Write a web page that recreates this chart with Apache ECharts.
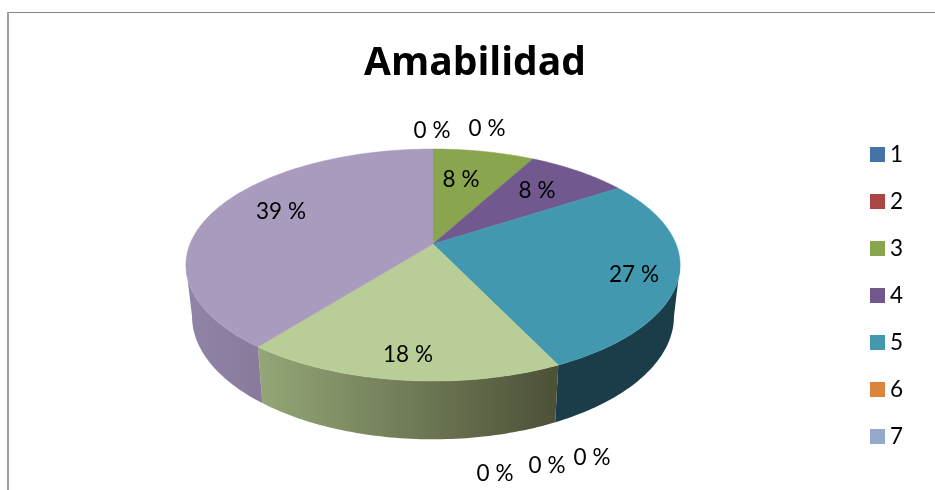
<!DOCTYPE html>
<html>
<head>
<meta charset="utf-8">
<style>html,body{margin:0;padding:0;background:#fff}#c{width:935px;height:490px}</style>
<script src="https://cdn.jsdelivr.net/npm/echarts@6/dist/echarts.min.js"></script>
</head>
<body>
<div id="c"></div>
<script>
const titleText = 'Amabilidad';
const categories = ['1','2','3','4','5','6','7','8','9','10'];
const legendCategories = ['1','2','3','4','5','6','7'];
const values = [0, 0, 7.9, 7.9, 27.1, 0, 0, 0, 17.7, 39.4];

const topColors = ['#4572a7','#aa4643','#89a54e','#71588f','#4198af','#db843d','#93a9cf','#d19392','#b9cd96','#a99bbd'];
const wallStart = ['#34557d','#7f3432','#667b3a','#54426b','#1b3d4a','#a46230','#6e7e9b','#9c6e6d','#94a777','#9184a8'];
const wallEnd   = ['#34557d','#7f3432','#667b3a','#54426b','#1b3d4a','#a46230','#6e7e9b','#9c6e6d','#4c5037','#887a9a'];

// label centres in the chart's own layout (not data)
const labelLayout = [[432,131],[487,129],[461,180],[537,191],[634,275],[547,466],[592,458],[495,474],[408,355],[281,212]];

// perspective projection of the pie's disc
const view = {cx:433, top:{y:244,a:112.2,b:243}, low:{y:294,a:119,b:237}, k:-0.181};
function project(deg, rim){
  const t = deg*Math.PI/180, u = Math.sin(t), v = -Math.cos(t), w = 1+view.k*v;
  return [view.cx + rim.b*u/w, rim.y + rim.a*v/w];
}
const total = values.reduce((s,x)=>s+x,0);
const starts = values.map((_,i)=>values.slice(0,i).reduce((s,x)=>s+x,0)/total*360);
const TANGENT_A = 100.4, TANGENT_B = 259.6;

function renderSlice(idx){
  return function(params, api){
    const val = api.value(0);
    const a0 = starts[idx], a1 = a0 + val/total*360;
    const children = [];
    if (val > 0){
      const rim = [];
      for (let d=a0; d<a1; d+=1) rim.push(project(d,view.top));
      rim.push(project(a1,view.top));
      children.push({type:'polygon', z2:2, shape:{points:[[view.cx,view.top.y]].concat(rim)},
        style:{fill:topColors[idx], stroke:topColors[idx], lineWidth:0.5}});
      const w0 = Math.max(a0,TANGENT_A), w1 = Math.min(a1,TANGENT_B);
      if (w1 > w0){
        const upper=[], lower=[];
        for (let d=w0; d<w1; d+=1){upper.push(project(d,view.top)); lower.push(project(d,view.low));}
        upper.push(project(w1,view.top)); lower.push(project(w1,view.low));
        const xs = upper.concat(lower).map(p=>p[0]);
        const minX = Math.min.apply(null,xs), maxX = Math.max.apply(null,xs);
        children.push({type:'polygon', z2:1, shape:{points:upper.concat(lower.reverse())},
          style:{fill:{type:'linear',x:minX,y:0,x2:maxX,y2:0,global:true,
            colorStops:[{offset:0,color:wallStart[idx]},{offset:1,color:wallEnd[idx]}]},
            stroke:null}});
      }
    }
    children.push({type:'text', z2:5, x:labelLayout[idx][0], y:labelLayout[idx][1],
      style:{text:Math.round(val)+' %', fill:'#000', font:'22.5px Lato, "Open Sans", sans-serif', align:'center', verticalAlign:'middle'}});
    return {type:'group', children};
  };
}

const chart = echarts.init(document.getElementById('c'), null, {renderer:'canvas'});
chart.setOption({
  animation:false,
  backgroundColor:'#fff',
  title:{text:titleText, left:475, top:44, padding:0, textAlign:'center',
    textStyle:{fontFamily:'"Open Sans", Lato, sans-serif', fontWeight:'bold', fontSize:39, color:'#000'}},
  legend:{data:legendCategories, orient:'vertical', left:870, top:143, padding:0, itemWidth:15, itemHeight:15, itemGap:24,
    icon:'rect', selectedMode:false, itemStyle:{borderWidth:0},
    textStyle:{fontFamily:'Lato, "Open Sans", sans-serif', fontSize:22.5, color:'#000'}},
  graphic:[
    {type:'line', silent:true, shape:{x1:7,y1:12.5,x2:935,y2:12.5}, style:{stroke:'#868686',lineWidth:1}},
    {type:'line', silent:true, shape:{x1:8,y1:12,x2:8,y2:490}, style:{stroke:'#a0a0a0',lineWidth:2}}
  ],
  series:categories.map((name,i)=>({
    type:'custom', name, coordinateSystem:'none', silent:true,
    itemStyle:{color:topColors[i]},
    data:[[values[i]]], renderItem:renderSlice(i)
  }))
});
</script>
</body>
</html>
